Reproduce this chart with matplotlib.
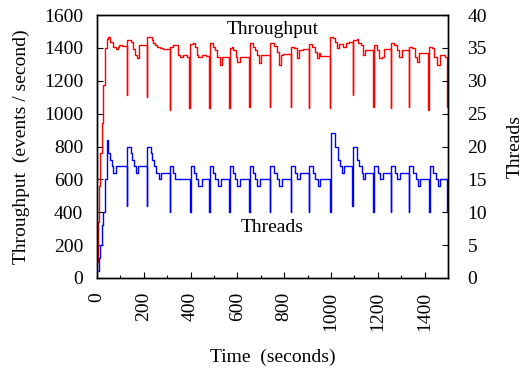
import matplotlib
matplotlib.use("Agg")
import matplotlib.pyplot as plt
from matplotlib.ticker import MultipleLocator

plt.rcParams['font.family'] = ['Liberation Serif', 'DejaVu Serif']

# throughput (events / second), step change points: time (s), value
thr_t = [0, 3, 8, 13, 20, 27, 34, 41, 48, 56, 70, 80, 88, 94, 106,
         127, 129, 145, 155, 162, 170, 180,
         212, 214, 233, 240, 248, 255, 270, 280,
         312, 314, 325, 346, 355, 366, 386,
         395, 397, 412, 419, 426, 433, 447, 466,
         480, 482, 494, 504, 514, 526, 533,
         565, 567, 576, 583, 593, 600, 611,
         650, 652, 665, 675, 685, 693, 700,
         739, 741, 757, 768, 778, 786, 796,
         828, 830, 843, 853, 863, 882,
         906, 908, 920, 932, 942, 950, 955,
         995, 997, 1008, 1016, 1024, 1035, 1050, 1063, 1077,
         1092, 1094, 1110, 1117, 1127, 1135, 1145,
         1181, 1183, 1195, 1206, 1216, 1226,
         1255, 1257, 1270, 1280, 1290, 1302,
         1333, 1335, 1347, 1359, 1366, 1377,
         1416, 1418, 1433, 1440, 1454, 1466, 1487,
         1497, 1500]
thr_v = [100, 342, 560, 760, 943, 1174, 1397, 1452, 1468, 1437, 1407, 1393, 1407, 1417, 1413,
         1113, 1448, 1437, 1393, 1357, 1336, 1417,
         1103, 1468, 1448, 1427, 1417, 1407, 1397, 1393,
         1022, 1407, 1417, 1357, 1346, 1357, 1346,
         1032, 1421, 1427, 1407, 1357, 1346, 1357, 1352,
         1032, 1427, 1407, 1387, 1346, 1296, 1346,
         1032, 1401, 1407, 1387, 1346, 1316, 1346,
         1042, 1427, 1407, 1387, 1357, 1306, 1357,
         1042, 1427, 1413, 1377, 1296, 1357, 1361,
         1042, 1407, 1397, 1336, 1387, 1393,
         1036, 1421, 1407, 1377, 1336, 1367, 1352,
         1032, 1468, 1458, 1437, 1397, 1421, 1407, 1427, 1434,
         1113, 1448, 1454, 1427, 1417, 1357, 1387,
         1042, 1417, 1387, 1336, 1346, 1393,
         1032, 1427, 1417, 1387, 1346, 1387,
         1042, 1407, 1397, 1346, 1316, 1367,
         1022, 1407, 1397, 1346, 1296, 1357, 1346,
         1042, 1042]

# threads, step change points: time (s), value
thd_t = [0, 8, 13, 20, 27, 34, 41, 48, 56, 63, 70, 80,
         127, 129, 144, 151, 159, 165, 174,
         212, 214, 229, 236, 244, 252, 263, 273,
         312, 314, 324, 334,
         397, 400, 414, 423, 433, 447,
         480, 482, 494, 504, 518, 528,
         565, 567, 580, 590, 600, 611,
         650, 652, 665, 675, 685, 697,
         739, 741, 758, 769, 778, 789,
         829, 831, 846, 856, 866,
         906, 908, 922, 932, 943, 953,
         996, 998, 1017, 1028, 1038, 1048, 1057,
         1091, 1093, 1110, 1120, 1131, 1138, 1145,
         1181, 1183, 1199, 1209, 1224,
         1255, 1257, 1273, 1283, 1295,
         1333, 1335, 1349, 1362, 1370, 1380,
         1419, 1421, 1437, 1447, 1456, 1466,
         1497, 1500]
thd_v = [1, 3, 5, 8, 10, 15, 21, 19, 18, 17, 16, 17,
         11, 20, 19, 18, 17, 16, 17,
         11, 20, 19, 18, 17, 16, 15, 16,
         10, 17, 16, 15,
         10, 17, 16, 15, 14, 15,
         10, 17, 16, 15, 14, 15,
         10, 17, 16, 15, 14, 15,
         10, 17, 16, 15, 14, 15,
         10, 17, 16, 15, 14, 15,
         10, 17, 16, 15, 16,
         10, 17, 16, 15, 14, 15,
         10, 22, 20, 18, 17, 16, 17,
         11, 20, 18, 17, 16, 15, 16,
         10, 17, 16, 15, 16,
         10, 17, 16, 15, 16,
         10, 17, 16, 15, 14, 15,
         10, 17, 16, 15, 14, 15,
         10, 10]

fig = plt.figure(figsize=(5.26, 3.68), dpi=100)
ax = fig.add_axes([0.1844, 0.2446, 0.6673, 0.7146])
ax2 = ax.twinx()

ax.step(thr_t, thr_v, where='post', color='#ff0000', lw=1.0)
ax2.step(thd_t, thd_v, where='post', color='#0000ff', lw=1.0)

ax.set_xlim(0, 1500)
ax.set_ylim(0, 1600)
ax2.set_ylim(0, 40)

ax.xaxis.set_major_locator(MultipleLocator(200))
ax.xaxis.set_minor_locator(MultipleLocator(100))
ax.yaxis.set_major_locator(MultipleLocator(200))
ax2.yaxis.set_major_locator(MultipleLocator(5))

ax.tick_params(axis='x', which='major', direction='in', length=4, width=0.8,
               labelsize=14, pad=10, labelrotation=90, top=False)
ax.tick_params(axis='x', which='minor', direction='in', length=2.5, width=0.8, top=False)
ax.tick_params(axis='y', direction='in', length=4, width=0.8, labelsize=14, pad=10,
               right=False)
ax2.tick_params(axis='y', direction='in', length=4, width=0.8, labelsize=14, pad=14)

for lab in ax.get_xticklabels():
    lab.set_va('top')

ax.set_xlabel('Time  (seconds)', fontsize=14, labelpad=13)
ax.set_ylabel('Throughput  (events / second)', fontsize=14, labelpad=10)
ax2.set_ylabel('Threads', fontsize=14, labelpad=14)

ax.text(752, 1509, 'Throughput', fontsize=14, ha='center', va='center')
ax.text(748, 310, 'Threads', fontsize=14, ha='center', va='center')

for a in (ax, ax2):
    for s in a.spines.values():
        s.set_linewidth(1.0)

fig.savefig('out.png', dpi=100)
